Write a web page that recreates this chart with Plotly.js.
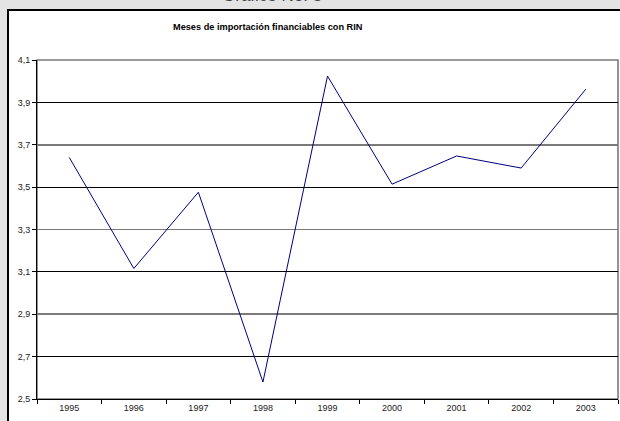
<!DOCTYPE html>
<html>
<head>
<meta charset="utf-8">
<script src="https://cdn.plot.ly/plotly-3.0.1.min.js"></script>
<style>
html,body{margin:0;padding:0;background:#e4e4e4;}
#chart{width:620px;height:421px;}
</style>
</head>
<body>
<div id="chart"></div>
<script>
const years = ['1995','1996','1997','1998','1999','2000','2001','2002','2003'];
const meses = [3.64, 3.116, 3.476, 2.58, 4.024, 3.514, 3.647, 3.59, 3.962];
const titleText = 'Meses de importación financiables con RIN';
const headerText = 'Gráfico No. 5';

const L = 37, R = 2, T = 60, B = 22, W = 620, H = 421;
const pw = W - L - R, ph = H - T - B;
const px = v => (v - L) / pw;
const py = v => 1 - (v - T) / ph;

const traces = [
  {x: years, y: meses, type: 'scatter', mode: 'lines',
   line: {color: '#000080', width: 1}, hoverinfo: 'x+y', showlegend: false},
  {x: years, y: meses, type: 'scatter', mode: 'none', yaxis: 'y2', showlegend: false, hoverinfo: 'skip'},
  {x: years, y: meses, type: 'scatter', mode: 'none', yaxis: 'y3', showlegend: false, hoverinfo: 'skip'}
];

const layout = {
  width: W, height: H,
  margin: {l: L, r: R, t: T, b: B, pad: 0},
  paper_bgcolor: '#e4e4e4',
  plot_bgcolor: 'rgba(0,0,0,0)',
  separators: ', ',
  font: {family: 'Liberation Sans, Arial, sans-serif', size: 9, color: '#000'},
  showlegend: false,
  xaxis: {
    type: 'category', categoryorder: 'array', categoryarray: years,
    range: [-0.5, 8.5], fixedrange: true,
    showgrid: false, zeroline: false,
    showline: true, linecolor: '#000', linewidth: 1,
    ticks: 'outside', tickson: 'boundaries', ticklen: 4, tickcolor: '#000', tickwidth: 1,
    tickfont: {size: 9, color: '#222'}
  },
  yaxis: {
    range: [2.5, 4.1], fixedrange: true,
    tick0: 2.5, dtick: 0.2, tickformat: '.1f',
    showgrid: false, zeroline: false,
    showline: true, linecolor: '#000', linewidth: 1,
    ticks: 'outside', ticklen: 4, tickcolor: '#000', tickwidth: 1,
    tickfont: {size: 9, color: '#222'}
  },
  yaxis2: {
    overlaying: 'y', range: [2.5, 4.1], fixedrange: true,
    tickmode: 'linear', tick0: 2.7, dtick: 0.4,
    showticklabels: false, ticks: '', zeroline: false, showline: false,
    showgrid: true, gridcolor: '#000', gridwidth: 1
  },
  yaxis3: {
    overlaying: 'y', range: [2.5, 4.1], fixedrange: true,
    tickmode: 'linear', tick0: 2.9, dtick: 0.4,
    showticklabels: false, ticks: '', zeroline: false, showline: false,
    showgrid: true, gridcolor: '#7a7a7a', gridwidth: 1.6
  },
  shapes: [
    {type: 'rect', xref: 'paper', yref: 'paper', layer: 'below',
     x0: px(8), x1: px(640), y0: py(440), y1: py(10),
     fillcolor: '#ffffff', line: {color: '#000', width: 2}},
    {type: 'rect', xref: 'paper', yref: 'paper', layer: 'below',
     x0: 0, x1: 1, y0: 0, y1: 1,
     fillcolor: 'rgba(0,0,0,0)', line: {color: '#7a7a7a', width: 1.6}}
  ],
  annotations: [
    {text: '<b>' + titleText + '</b>', xref: 'paper', yref: 'paper',
     x: px(268), y: py(27), xanchor: 'center', yanchor: 'middle',
     showarrow: false, font: {size: 9.2, color: '#000'}},
    {text: headerText, xref: 'paper', yref: 'paper',
     x: px(272), y: py(7), xanchor: 'center', yanchor: 'bottom',
     showarrow: false, font: {size: 17, color: '#444'}}
  ]
};

Plotly.newPlot('chart', traces, layout, {displayModeBar: false, staticPlot: true});
</script>
</body>
</html>
